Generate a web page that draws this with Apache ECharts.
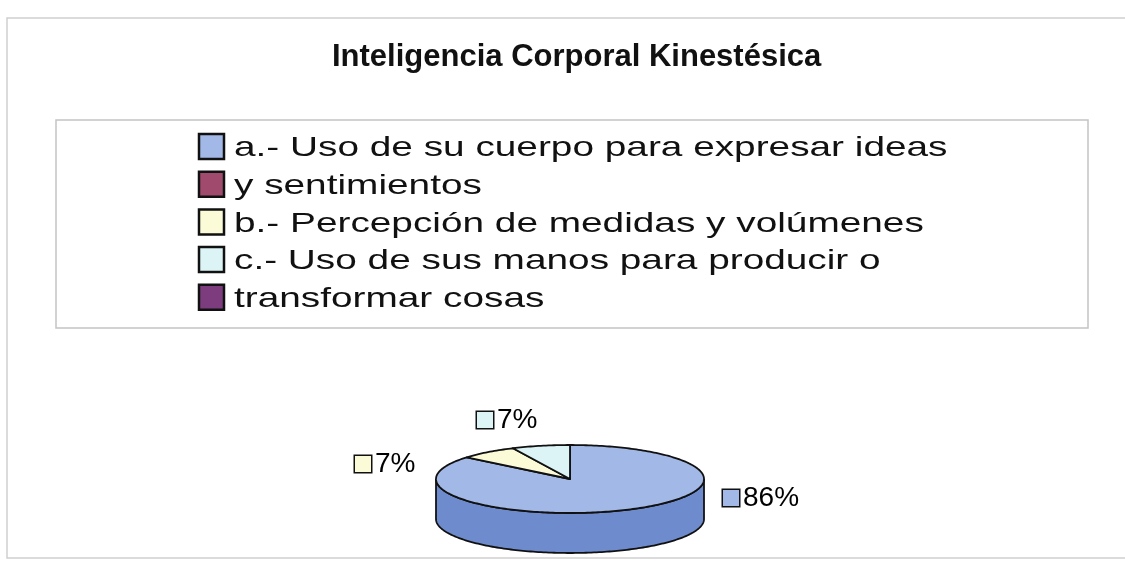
<!DOCTYPE html>
<html>
<head>
<meta charset="utf-8">
<title>Inteligencia Corporal Kinestésica</title>
<script src="https://cdn.jsdelivr.net/npm/echarts@6/dist/echarts.min.js"></script>
<style>
  html, body { margin: 0; padding: 0; background: #fff; }
  #main { width: 1125px; height: 565px; }
</style>
</head>
<body>
<div id="main"></div>
<script>
var titleText = "Inteligencia Corporal Kinestésica";
var categories = [
  "a.- Uso de su cuerpo para expresar ideas",
  "y sentimientos",
  "b.- Percepción de medidas y volúmenes",
  "c.- Uso de sus manos para producir o",
  "transformar cosas",
];
var values = [86, 0, 7, 7, 0];
var colors = ["#a2b8e6", "#a04b6e", "#fbfbd8", "#dcf4f6", "#7d3c7d"];

// pie geometry (tilted 3D look)
var pie = { cx: 570, cy: 479, rx: 134, ry: 34, depth: 40 };
// label anchor (left edge, middle) relative to pie centre
var labelOffset = { 0: [153, 19], 2: [-215, -15], 3: [-93, -59] };

// side wall shade: darker, keeps the blue
function shade(hex) {
  var n = parseInt(hex.slice(1), 16);
  var r = Math.round(((n >> 16) & 255) * 0.68);
  var g = Math.round(((n >> 8) & 255) * 0.76);
  var b = Math.round((n & 255) * 0.89);
  return "rgb(" + r + "," + g + "," + b + ")";
}

function pt(a, dy) {
  return [pie.cx + pie.rx * Math.sin(a), pie.cy - pie.ry * Math.cos(a) + (dy || 0)];
}

function arc(a0, a1, dy) {
  var pts = [];
  var n = Math.max(2, Math.ceil((a1 - a0) / 0.02));
  for (var k = 0; k <= n; k++) {
    pts.push(pt(a0 + ((a1 - a0) * k) / n, dy));
  }
  return pts;
}

var total = values.reduce(function (s, v) { return s + v; }, 0);

function renderItem(params, api) {
  var i = params.dataIndex;
  var v = api.value(0);
  if (!v) {
    return;
  }
  var before = 0;
  for (var j = 0; j < i; j++) before += values[j];
  // clockwise from 12 o'clock, like Excel
  var a0 = (before / total) * Math.PI * 2;
  var a1 = ((before + v) / total) * Math.PI * 2;
  var children = [];

  // front wall
  var lo = Math.max(a0, Math.PI / 2);
  var hi = Math.min(a1, (Math.PI * 3) / 2);
  if (hi > lo) {
    var wall = arc(lo, hi, 0).concat(arc(lo, hi, pie.depth).reverse());
    children.push({
      type: "polygon",
      z2: 1,
      shape: { points: wall },
      style: { fill: shade(colors[i]), stroke: "#111", lineWidth: 1.8 },
    });
  }

  // top face
  var top = [[pie.cx, pie.cy]].concat(arc(a0, a1, 0));
  children.push({
    type: "polygon",
    z2: 5,
    shape: { points: top },
    style: { fill: colors[i], stroke: "#111", lineWidth: 1.8, lineJoin: "round" },
  });

  // data label
  var off = labelOffset[i] || [0, 0];
  children.push({
    type: "text",
    z2: 10,
    x: pie.cx + off[0],
    y: pie.cy + off[1],
    style: {
      text: "{box|}{t|" + Math.round((v / total) * 100) + "%}",
      verticalAlign: "middle",
      rich: {
        box: {
          width: 16,
          height: 16,
          backgroundColor: colors[i],
          borderColor: "#111",
          borderWidth: 1.5,
        },
        t: {
          fontSize: 28,
          fontFamily: "Arial, 'Liberation Sans', sans-serif",
          color: "#111",
          padding: [0, 0, 0, 4],
        },
      },
    },
  });

  return { type: "group", children: children };
}

// legend drawn as a boxed list, text widened like the original
var legendItems = [];
categories.forEach(function (name, i) {
  var y = 146.5 + i * 37.7;
  legendItems.push({
    type: "rect",
    shape: { x: 199, y: y - 12.5, width: 25, height: 25 },
    style: { fill: colors[i], stroke: "#111", lineWidth: 2.5 },
  });
  legendItems.push({
    type: "text",
    x: 234,
    y: y + 2,
    scaleX: 1.385,
    style: {
      text: name,
      font: "28px Arial, 'Liberation Sans', sans-serif",
      fill: "#111",
      verticalAlign: "middle",
    },
  });
});

var chart = echarts.init(document.getElementById("main"));
chart.setOption({
  backgroundColor: "#fff",
  animation: false,
  title: {
    text: titleText,
    left: 327,
    top: 37,
    textStyle: {
      fontSize: 31,
      fontWeight: "bold",
      fontFamily: "Arial, 'Liberation Sans', sans-serif",
      color: "#111",
    },
  },
  graphic: [
    {
      type: "rect",
      silent: true,
      shape: { x: 7, y: 18, width: 1130, height: 540 },
      style: { fill: "none", stroke: "#cfcfcf", lineWidth: 1.5 },
    },
    {
      type: "rect",
      silent: true,
      shape: { x: 56, y: 120, width: 1032, height: 208 },
      style: { fill: "none", stroke: "#c4c4c4", lineWidth: 1.5 },
    },
    { type: "group", silent: true, children: legendItems },
  ],
  series: [
    {
      type: "custom",
      coordinateSystem: "none",
      silent: true,
      data: values.map(function (v, i) {
        return { name: categories[i], value: v };
      }),
      renderItem: renderItem,
    },
  ],
});
</script>
</body>
</html>
